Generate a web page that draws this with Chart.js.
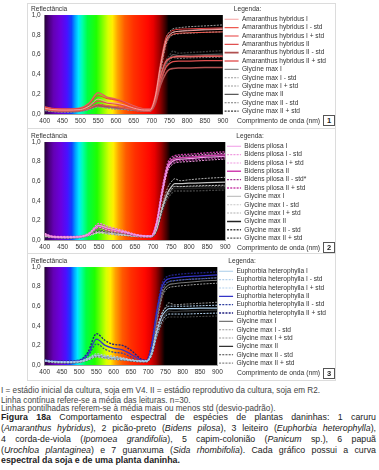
<!DOCTYPE html>
<html><head><meta charset="utf-8">
<script src="https://cdn.jsdelivr.net/npm/chart.js@4"></script>
<style>
html,body{margin:0;padding:0;background:#fff;}
body{width:379px;height:470px;position:relative;overflow:hidden;font-family:"Liberation Sans",Arial,sans-serif;}
.panel{position:absolute;left:27px;width:309px;border:1px solid #dcdcdc;box-sizing:border-box;}
canvas{position:absolute;left:27px;}
.xl{position:absolute;left:237px;font-size:6.8px;color:#333;white-space:nowrap;line-height:8px;}
.num{position:absolute;left:323px;width:12px;height:11px;border:1px solid #555;box-sizing:border-box;font-size:7.5px;font-weight:bold;text-align:center;line-height:9px;color:#222;background:#fff;}
.cap{position:absolute;left:1px;font-size:8.2px;color:#444;white-space:nowrap;line-height:9px;}
.fig{position:absolute;left:1px;top:412.3px;width:375px;font-size:8.8px;color:#222;line-height:10.8px;}
.fig div{text-align:justify;text-align-last:justify;white-space:nowrap;}
.fig div.last{text-align:left;text-align-last:left;font-weight:bold;}
</style></head>
<body>
<div class="panel" style="top:3px;height:126px"></div>
<div class="panel" style="top:128px;height:126px"></div>
<div class="panel" style="top:253px;height:128px"></div>
<canvas id="c1" width="309" height="125" style="top:2px"></canvas>
<canvas id="c2" width="309" height="124" style="top:129px"></canvas>
<canvas id="c3" width="309" height="124" style="top:254px"></canvas>
<div class="xl" style="top:117px">Comprimento de onda (nm)</div>
<div class="xl" style="top:243.5px">Comprimento de onda (nm)</div>
<div class="xl" style="top:368.5px">Comprimento de onda (nm)</div>
<div class="num" style="top:115px">1</div>
<div class="num" style="top:242px">2</div>
<div class="num" style="top:368px">3</div>
<div class="cap" style="top:385.5px">I = estádio inicial da cultura, soja em V4. II = estádio reprodutivo da cultura, soja em R2.</div>
<div class="cap" style="top:395.5px">Linha contínua refere-se a média das leituras. n=30.</div>
<div class="cap" style="top:404.2px">Linhas pontilhadas referem-se à média mais ou menos std (desvio-padrão).</div>
<div class="fig">
<div><b>Figura 18a</b> Comportamento espectral de espécies de plantas daninhas: 1 caruru</div>
<div>(<i>Amaranthus hybridus</i>), 2 picão-preto (<i>Bidens pilosa</i>), 3 leiteiro (<i>Euphorbia heterophylla</i>),</div>
<div>4 corda-de-viola (<i>Ipomoea grandifolia</i>), 5 capim-colonião (<i>Panicum</i> sp.), 6 papuã</div>
<div>(<i>Urochloa plantaginea</i>) e 7 guanxuma (<i>Sida rhombifolia</i>). Cada gráfico possui a curva</div>
<div class="last">espectral da soja e de uma planta daninha.</div>
</div>
<script>
// ---------- data ----------
const wavelengths = [400,420,460,500,525,550,575,600,625,650,680,695,710,725,740,750,760,775,800,850,900];
const xTickValues = [400,450,500,550,600,650,700,750,800,850,900];
const yTickLabels = ['0,0','0,1','0,2','0,3','0,4','0,5','0,6','0,7','0,8','0,9','1,0'];

// Panel 1: Amaranthus hybridus x Glycine max
const labels1 = ['Amaranthus hybridus I','Amaranthus hybridus I - std','Amaranthus hybridus I + std','Amaranthus hybridus II','Amaranthus hybridus II - std','Amaranthus hybridus II + std','Glycine max I','Glycine max I - std','Glycine max I + std','Glycine max II','Glycine max II - std','Glycine max II + std'];
const amaI      = [0.06,0.045,0.04,0.045,0.08,0.15,0.12,0.11,0.09,0.06,0.04,0.04,0.17,0.49,0.74,0.80,0.825,0.835,0.84,0.85,0.855];
const amaIminus = [0.05,0.035,0.03,0.035,0.06,0.10,0.085,0.075,0.06,0.045,0.03,0.03,0.15,0.46,0.71,0.78,0.805,0.815,0.82,0.825,0.83];
const amaIplus  = [0.07,0.055,0.05,0.055,0.10,0.185,0.155,0.14,0.115,0.075,0.05,0.05,0.19,0.52,0.77,0.82,0.845,0.855,0.86,0.865,0.87];
const amaII      = [0.06,0.045,0.04,0.045,0.08,0.13,0.11,0.10,0.08,0.055,0.04,0.04,0.12,0.33,0.47,0.51,0.53,0.535,0.535,0.54,0.54];
const amaIIminus = [0.05,0.035,0.03,0.035,0.06,0.085,0.075,0.065,0.055,0.04,0.03,0.03,0.10,0.29,0.41,0.45,0.46,0.465,0.465,0.47,0.47];
const amaIIplus  = [0.07,0.055,0.05,0.06,0.11,0.215,0.17,0.15,0.12,0.08,0.05,0.05,0.14,0.38,0.53,0.56,0.575,0.58,0.58,0.585,0.585];
const gly1I      = [0.04,0.03,0.025,0.03,0.05,0.08,0.07,0.06,0.05,0.04,0.035,0.035,0.13,0.45,0.72,0.79,0.825,0.835,0.845,0.855,0.865];
const gly1Iminus = [0.035,0.025,0.02,0.025,0.045,0.07,0.06,0.05,0.045,0.035,0.03,0.03,0.11,0.42,0.69,0.77,0.80,0.81,0.815,0.825,0.83];
const gly1Iplus  = [0.045,0.035,0.03,0.035,0.06,0.09,0.08,0.07,0.055,0.045,0.04,0.04,0.15,0.48,0.76,0.83,0.86,0.87,0.88,0.89,0.90];
const gly1II      = [0.04,0.03,0.025,0.03,0.05,0.085,0.07,0.06,0.05,0.04,0.035,0.035,0.11,0.33,0.50,0.56,0.60,0.59,0.595,0.60,0.605];
const gly1IIminus = [0.035,0.025,0.02,0.025,0.045,0.075,0.06,0.05,0.045,0.035,0.03,0.03,0.10,0.30,0.47,0.53,0.57,0.56,0.565,0.57,0.575];
const gly1IIplus  = [0.045,0.035,0.03,0.035,0.06,0.095,0.08,0.07,0.055,0.045,0.04,0.04,0.12,0.36,0.54,0.59,0.635,0.615,0.62,0.63,0.64];

// Panel 2: Bidens pilosa x Glycine max
const labels2 = ['Bidens pilosa I','Bidens pilosa I - std','Bidens pilosa I + std','Bidens pilosa II','Bidens pilosa II - std*','Bidens pilosa II + std','Glycine max I','Glycine max I - std','Glycine max I + std','Glycine max II','Glycine max II - std','Glycine max II + std'];
const bidI      = [0.06,0.035,0.03,0.035,0.07,0.15,0.12,0.10,0.08,0.055,0.04,0.04,0.17,0.48,0.73,0.79,0.815,0.825,0.83,0.845,0.855];
const bidIminus = [0.05,0.03,0.025,0.03,0.06,0.13,0.10,0.085,0.07,0.05,0.035,0.035,0.15,0.45,0.70,0.76,0.785,0.795,0.80,0.815,0.825];
const bidIplus  = [0.07,0.04,0.035,0.04,0.08,0.17,0.14,0.115,0.09,0.06,0.045,0.045,0.19,0.51,0.76,0.82,0.845,0.855,0.86,0.875,0.885];
const bidII      = [0.055,0.035,0.03,0.035,0.065,0.14,0.11,0.095,0.075,0.05,0.04,0.04,0.18,0.50,0.75,0.81,0.83,0.84,0.845,0.86,0.87];
const bidIIminus = [0.05,0.03,0.025,0.03,0.055,0.12,0.095,0.08,0.065,0.045,0.035,0.035,0.16,0.47,0.72,0.78,0.80,0.81,0.815,0.83,0.84];
const bidIIplus  = [0.065,0.04,0.035,0.04,0.075,0.165,0.13,0.11,0.085,0.055,0.045,0.045,0.20,0.53,0.78,0.84,0.86,0.87,0.875,0.89,0.90];
const gly2I      = [0.04,0.03,0.025,0.03,0.05,0.08,0.07,0.06,0.05,0.04,0.035,0.035,0.11,0.32,0.48,0.54,0.575,0.575,0.58,0.585,0.59];
const gly2Iminus = [0.035,0.025,0.02,0.025,0.045,0.07,0.06,0.05,0.045,0.035,0.03,0.03,0.10,0.30,0.45,0.51,0.545,0.545,0.55,0.555,0.56];
const gly2Iplus  = [0.045,0.035,0.03,0.035,0.06,0.09,0.08,0.07,0.055,0.045,0.04,0.04,0.12,0.35,0.53,0.59,0.625,0.605,0.615,0.63,0.64];
const gly2II      = [0.04,0.03,0.025,0.03,0.055,0.09,0.075,0.065,0.05,0.04,0.035,0.035,0.10,0.30,0.45,0.50,0.525,0.525,0.525,0.53,0.53];
const gly2IIminus = [0.035,0.025,0.02,0.025,0.05,0.08,0.065,0.055,0.045,0.035,0.03,0.03,0.09,0.28,0.42,0.47,0.50,0.50,0.50,0.505,0.51];
const gly2IIplus  = [0.045,0.035,0.03,0.035,0.06,0.10,0.085,0.07,0.055,0.045,0.04,0.04,0.11,0.32,0.48,0.53,0.55,0.545,0.545,0.55,0.55];

// Panel 3: Euphorbia heterophylla x Glycine max
const labels3 = ['Euphorbia heterophylla I','Euphorbia heterophylla I - std','Euphorbia heterophylla I + std','Euphorbia heterophylla II','Euphorbia heterophylla II - std','Euphorbia heterophylla II + std','Glycine max I','Glycine max I - std','Glycine max I + std','Glycine max II','Glycine max II - std','Glycine max II + std'];
const eupI      = [0.045,0.035,0.03,0.035,0.06,0.10,0.085,0.075,0.065,0.05,0.04,0.04,0.12,0.34,0.50,0.55,0.575,0.575,0.575,0.58,0.58];
const eupIminus = [0.04,0.03,0.025,0.03,0.05,0.085,0.07,0.06,0.055,0.045,0.035,0.035,0.10,0.30,0.45,0.50,0.52,0.52,0.52,0.525,0.53];
const eupIplus  = [0.05,0.04,0.035,0.04,0.07,0.115,0.10,0.09,0.075,0.055,0.045,0.045,0.14,0.37,0.53,0.58,0.60,0.60,0.60,0.605,0.61];
const eupII      = [0.05,0.04,0.035,0.045,0.11,0.265,0.20,0.17,0.155,0.11,0.05,0.045,0.20,0.55,0.80,0.86,0.88,0.89,0.90,0.91,0.92];
const eupIIminus = [0.045,0.035,0.03,0.04,0.09,0.215,0.16,0.13,0.12,0.08,0.04,0.04,0.18,0.52,0.77,0.83,0.85,0.86,0.87,0.88,0.89];
const eupIIplus  = [0.055,0.045,0.04,0.05,0.13,0.32,0.25,0.21,0.20,0.15,0.06,0.05,0.22,0.58,0.83,0.89,0.91,0.92,0.93,0.94,0.95];
const gly3I      = [0.045,0.03,0.025,0.03,0.055,0.09,0.075,0.065,0.055,0.045,0.035,0.035,0.14,0.46,0.72,0.79,0.82,0.83,0.84,0.855,0.865];
const gly3Iminus = [0.04,0.025,0.02,0.025,0.05,0.08,0.065,0.055,0.05,0.04,0.03,0.03,0.12,0.43,0.69,0.76,0.79,0.80,0.81,0.825,0.835];
const gly3Iplus  = [0.05,0.035,0.03,0.035,0.065,0.10,0.085,0.075,0.06,0.05,0.04,0.04,0.16,0.49,0.75,0.82,0.85,0.86,0.87,0.88,0.89];
const gly3II      = [0.045,0.03,0.025,0.03,0.055,0.095,0.08,0.07,0.06,0.045,0.035,0.035,0.11,0.31,0.46,0.52,0.55,0.545,0.55,0.555,0.56];
const gly3IIminus = [0.04,0.025,0.02,0.025,0.05,0.085,0.07,0.06,0.05,0.04,0.03,0.03,0.10,0.28,0.42,0.47,0.49,0.49,0.49,0.495,0.50];
const gly3IIplus  = [0.05,0.035,0.03,0.035,0.065,0.105,0.09,0.075,0.065,0.05,0.04,0.04,0.12,0.35,0.53,0.59,0.635,0.615,0.62,0.63,0.64];

// spectrum background (wavelength stops and colours)
const spectrumWl = [400,412,425,445,462,475,485,495,505,520,545,565,578,590,605,625,650,690,705,722,738,748,900];
const spectrumCol = ['#28003c','#4a007c','#6400b4','#6a00e0','#4a10ff','#1040ff','#00a0ff','#00e8ff','#00ffb0','#00ff40','#20ff00','#90ff00','#d8ff00','#ffee00','#ffa000','#ff5a00','#ff3000','#ff0800','#e80000','#a00000','#400000','#000000','#000000'];

// ---------- styles ----------
const D = [2,1.2];
const style1 = [
 {c:'#f5a0a0',w:1,d:[]},{c:'#ee5a50',w:1,d:[]},{c:'#e83c3c',w:1,d:[]},
 {c:'#e05050',w:1.3,d:[]},{c:'#b05050',w:1.6,d:[]},{c:'#e46060',w:1.6,d:[]},
 {c:'#8a8a8a',w:1,d:[]},{c:'#9a9a9a',w:1,d:D},{c:'#9a9a9a',w:1,d:D},
 {c:'#5a5a5a',w:1.2,d:[]},{c:'#7a7a7a',w:1,d:D},{c:'#3a3a3a',w:1.4,d:D}];
const style2 = [
 {c:'#f09ae6',w:1.2,d:[]},{c:'#f09ae0',w:1,d:D},{c:'#f09ae0',w:1,d:D},
 {c:'#d040b0',w:1.4,d:[]},{c:'#a03090',w:1.4,d:D},{c:'#c840a8',w:1.4,d:D},
 {c:'#c4c4c4',w:1.2,d:[]},{c:'#c8c8c8',w:1,d:D},{c:'#b0b0b0',w:1,d:D},
 {c:'#222222',w:1.5,d:[]},{c:'#444444',w:1.3,d:D},{c:'#555555',w:1.3,d:D}];
const style3 = [
 {c:'#a8cce8',w:1.1,d:[]},{c:'#b4d2ee',w:1,d:D},{c:'#b4d2ee',w:1,d:D},
 {c:'#3434c8',w:1.3,d:[]},{c:'#3040a0',w:1.2,d:D},{c:'#202080',w:1.4,d:D},
 {c:'#777777',w:1.1,d:[]},{c:'#999999',w:1,d:D},{c:'#999999',w:1,d:D},
 {c:'#333333',w:1.4,d:[]},{c:'#444444',w:1.1,d:D},{c:'#888888',w:1.1,d:D}];

const FONT = "'Liberation Sans', Arial, sans-serif";
const LEG_FS = 6.6, LEG_PAD = 1.75, LEG_BOX = 14, LEG_EXTRA = 10;
const CANVAS_W = 309, PLOT_RIGHT = 198.3;
Chart.defaults.font.family = FONT;
Chart.defaults.color = '#333';

const measureCtx = document.createElement('canvas').getContext('2d');
function legendWidth(labels) {
  measureCtx.font = LEG_FS + 'px ' + FONT;
  const maxText = Math.max(...labels.map(t => measureCtx.measureText(t).width));
  return LEG_PAD + LEG_BOX + LEG_FS / 2 + maxText + LEG_EXTRA;
}

const spectrumPlugin = {
  id: 'spectrum',
  beforeDatasetsDraw(chart) {
    const {ctx, chartArea: a, scales: {x}} = chart;
    const x0 = x.getPixelForValue(400), x1 = x.getPixelForValue(900);
    const g = ctx.createLinearGradient(x0, 0, x1, 0);
    spectrumWl.forEach((w, i) => g.addColorStop((w - 400) / 500, spectrumCol[i]));
    ctx.save();
    ctx.fillStyle = g;
    ctx.fillRect(a.left, a.top, a.right - a.left, a.bottom - a.top);
    ctx.restore();
  }
};

function makeChart(id, labels, series, styles) {
  const datasets = series.map((vals, i) => ({
    label: labels[i],
    data: wavelengths.map((w, j) => ({x: w, y: vals[j]})),
    borderColor: styles[i].c,
    backgroundColor: styles[i].c,
    borderWidth: styles[i].w,
    borderDash: styles[i].d,
    pointRadius: 0,
    fill: false,
    cubicInterpolationMode: 'monotone'
  }));
  const padRight = Math.max(0, CANVAS_W - PLOT_RIGHT - legendWidth(labels));
  return new Chart(document.getElementById(id), {
    type: 'line',
    data: {datasets},
    plugins: [spectrumPlugin],
    options: {
      responsive: false,
      animation: false,
      devicePixelRatio: 1,
      layout: {padding: {top: 2, left: 4, right: padRight, bottom: 1}},
      plugins: {
        tooltip: {enabled: false},
        title: {
          display: true, text: 'Reflectância', align: 'start', fullSize: true,
          color: '#333', font: {size: 6.6, weight: 'normal'},
          padding: {top: 1.5, bottom: 1.6}
        },
        legend: {
          position: 'right', align: 'start', fullSize: true, maxWidth: 300,
          title: {display: true, position: 'start', text: '      Legenda:', color: '#333', font: {size: LEG_FS}, padding: {top: 2, bottom: 0.3}},
          labels: {
            usePointStyle: true, pointStyle: 'line', pointStyleWidth: LEG_BOX, boxHeight: LEG_FS,
            padding: LEG_PAD, color: '#333', font: {size: LEG_FS},
            generateLabels: (chart) => chart.data.datasets.map((ds, i) => ({
              text: ds.label, strokeStyle: ds.borderColor, fillStyle: ds.borderColor,
              lineWidth: Math.max(ds.borderWidth, 1.1), lineDash: ds.borderDash, pointStyle: 'line',
              rotation: 0, hidden: false, datasetIndex: i, fontColor: '#333'
            }))
          }
        }
      },
      scales: {
        x: {
          type: 'linear', min: 400, max: 900,
          afterBuildTicks: (s) => { s.ticks = xTickValues.map(v => ({value: v})); },
          afterFit: (s) => { s.height = 12; },
          grid: {display: false, drawTicks: false},
          border: {display: true, color: '#a0a0a0'},
          ticks: {autoSkip: false, maxRotation: 0, padding: 3, color: '#333', font: {size: 6.5}}
        },
        y: {
          min: 0, max: 1,
          afterBuildTicks: (s) => { s.ticks = yTickLabels.map((t, i) => ({value: i / 10})); },
          afterFit: (s) => { s.width = 13.7; },
          grid: {display: false, drawTicks: false},
          border: {display: true, color: '#a0a0a0'},
          ticks: {padding: 4, color: '#333', font: {size: 6.5},
            callback: (v, i) => yTickLabels[i]}
        }
      }
    }
  });
}

makeChart('c1', labels1, [amaI, amaIminus, amaIplus, amaII, amaIIminus, amaIIplus, gly1I, gly1Iminus, gly1Iplus, gly1II, gly1IIminus, gly1IIplus], style1);
makeChart('c2', labels2, [bidI, bidIminus, bidIplus, bidII, bidIIminus, bidIIplus, gly2I, gly2Iminus, gly2Iplus, gly2II, gly2IIminus, gly2IIplus], style2);
makeChart('c3', labels3, [eupI, eupIminus, eupIplus, eupII, eupIIminus, eupIIplus, gly3I, gly3Iminus, gly3Iplus, gly3II, gly3IIminus, gly3IIplus], style3);
</script>
</body></html>
